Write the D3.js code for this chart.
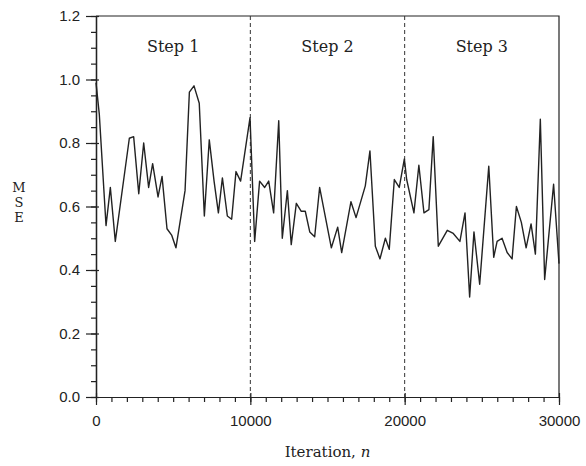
<!DOCTYPE html>
<html>
<head>
<meta charset="utf-8">
<script src="https://cdn.jsdelivr.net/npm/d3@7"></script>
<style>
  body { margin: 0; background: #fff; }
  svg { display: block; font-family: 'DejaVu Serif', 'Liberation Serif', serif; }
  .axis path, .axis line { stroke: #222; stroke-width: 1.2; }
  .axis text { font-size: 15px; fill: #222; }
</style>
</head>
<body>
<svg id="chart" width="586" height="466"></svg>
<script>
// data
const iters = [
  0, 215, 650, 930, 1250, 2160, 2440, 2770, 3090, 3410, 3670, 4020, 4280, 4600, 4900, 5180,
  5770, 6050, 6350, 6690, 7020, 7340, 7650, 7930, 8190, 8510, 8790, 9070, 9370, 9980,
  10280, 10600, 10930, 11190, 11510, 11840, 12070, 12400, 12650, 12980, 13300, 13560, 13850,
  14170, 14490, 15250, 15660, 15920, 16520, 16850, 17450, 17750, 18100, 18400, 18750, 19000,
  19330, 19650, 19980, 20130, 20600, 20920, 21250, 21570, 21850, 22180, 22760, 23150, 23580,
  23910, 24210, 24490, 24860, 25450, 25770, 25990, 26310, 26640, 26960, 27240, 27560, 27870,
  28190, 28470, 28790, 29070, 29650, 30000
];
const mse = [
  0.99, 0.89, 0.54, 0.66, 0.49, 0.815, 0.82, 0.64, 0.80, 0.66, 0.735, 0.63, 0.695, 0.53, 0.51, 0.47,
  0.65, 0.96, 0.98, 0.925, 0.57, 0.81, 0.68, 0.58, 0.69, 0.57, 0.56, 0.71, 0.68, 0.88,
  0.49, 0.68, 0.66, 0.68, 0.58, 0.87, 0.50, 0.65, 0.48, 0.61, 0.585, 0.585, 0.52,
  0.505, 0.66, 0.47, 0.535, 0.455, 0.615, 0.565, 0.665, 0.775, 0.475, 0.435, 0.50, 0.465,
  0.685, 0.66, 0.75, 0.685, 0.58, 0.73, 0.58, 0.59, 0.82, 0.475, 0.525, 0.515, 0.49,
  0.58, 0.315, 0.52, 0.355, 0.727, 0.44, 0.49, 0.50, 0.455, 0.435, 0.60, 0.55, 0.47,
  0.545, 0.45, 0.875, 0.37, 0.67, 0.42
];
const xTicks = [0, 10000, 20000, 30000];
const yTicks = [0, 0.2, 0.4, 0.6, 0.8, 1.0, 1.2];
const stepBounds = [10000, 20000];
const stepLabels = ['Step 1', 'Step 2', 'Step 3'];
const stepCenters = [5000, 15000, 25000];
const yTitleLetters = ['M', 'S', 'E'];

const plot = { left: 96, right: 559, top: 16, bottom: 397 };
const svg = d3.select('#chart');

const x = d3.scaleLinear().domain([0, 30000]).range([plot.left, plot.right]);
const y = d3.scaleLinear().domain([0, 1.2]).range([plot.bottom, plot.top]);

// minor ticks
svg.append('g')
  .attr('class', 'axis')
  .attr('transform', `translate(0,${plot.bottom})`)
  .call(d3.axisBottom(x).tickValues(d3.range(0, 30001, 1000)).tickSize(5).tickFormat('').tickSizeOuter(0));
svg.append('g')
  .attr('class', 'axis')
  .attr('transform', `translate(${plot.left},0)`)
  .call(d3.axisLeft(y).tickValues(d3.range(0, 1.201, 0.05)).tickSize(5).tickFormat('').tickSizeOuter(0));

// major ticks + labels
svg.append('g')
  .attr('class', 'axis')
  .attr('transform', `translate(0,${plot.bottom})`)
  .call(d3.axisBottom(x).tickValues(xTicks).tickSize(8).tickPadding(10).tickFormat(d3.format('d')).tickSizeOuter(0));
svg.append('g')
  .attr('class', 'axis')
  .attr('transform', `translate(${plot.left},0)`)
  .call(d3.axisLeft(y).tickValues(yTicks).tickSize(10).tickPadding(6).tickFormat(d3.format('.1f')).tickSizeOuter(0));

// small inward part of the major ticks
svg.append('g')
  .attr('class', 'axis')
  .attr('transform', `translate(0,${plot.bottom})`)
  .call(d3.axisTop(x).tickValues(xTicks).tickSize(4).tickFormat('').tickSizeOuter(0));
svg.append('g')
  .attr('class', 'axis')
  .attr('transform', `translate(${plot.left},0)`)
  .call(d3.axisRight(y).tickValues(yTicks).tickSize(3).tickFormat('').tickSizeOuter(0));

// top and right frame
svg.append('path')
  .attr('d', `M${plot.left},${plot.top}H${plot.right}V${plot.bottom}`)
  .attr('fill', 'none')
  .attr('stroke', '#222')
  .attr('stroke-width', 1.2);

// step separators
svg.selectAll('.sep')
  .data(stepBounds)
  .join('line')
  .attr('class', 'sep')
  .attr('x1', d => x(d)).attr('x2', d => x(d))
  .attr('y1', plot.top).attr('y2', plot.bottom)
  .attr('stroke', '#333')
  .attr('stroke-width', 1)
  .attr('stroke-dasharray', '4,3');

svg.selectAll('.step')
  .data(stepLabels)
  .join('text')
  .attr('class', 'step')
  .attr('x', (d, i) => x(stepCenters[i]))
  .attr('y', 52)
  .attr('text-anchor', 'middle')
  .attr('font-size', 16)
  .attr('fill', '#222')
  .text(d => d);

// MSE curve
const line = d3.line()
  .x((d, i) => x(iters[i]))
  .y(d => y(d));

svg.append('path')
  .datum(mse)
  .attr('d', line)
  .attr('fill', 'none')
  .attr('stroke', '#222')
  .attr('stroke-width', 1.4)
  .attr('stroke-linejoin', 'round');

// y title, letters stacked
svg.selectAll('.ytitle')
  .data(yTitleLetters)
  .join('text')
  .attr('class', 'ytitle')
  .attr('x', 19)
  .attr('y', (d, i) => 192 + i * 15)
  .attr('text-anchor', 'middle')
  .attr('font-size', 13)
  .attr('fill', '#222')
  .text(d => d);

const xTitle = svg.append('text')
  .attr('x', x(15000))
  .attr('y', 457)
  .attr('text-anchor', 'middle')
  .attr('font-size', 15)
  .attr('fill', '#222');
xTitle.append('tspan').text('Iteration, ');
xTitle.append('tspan').attr('font-style', 'italic').text('n');
</script>
</body>
</html>
